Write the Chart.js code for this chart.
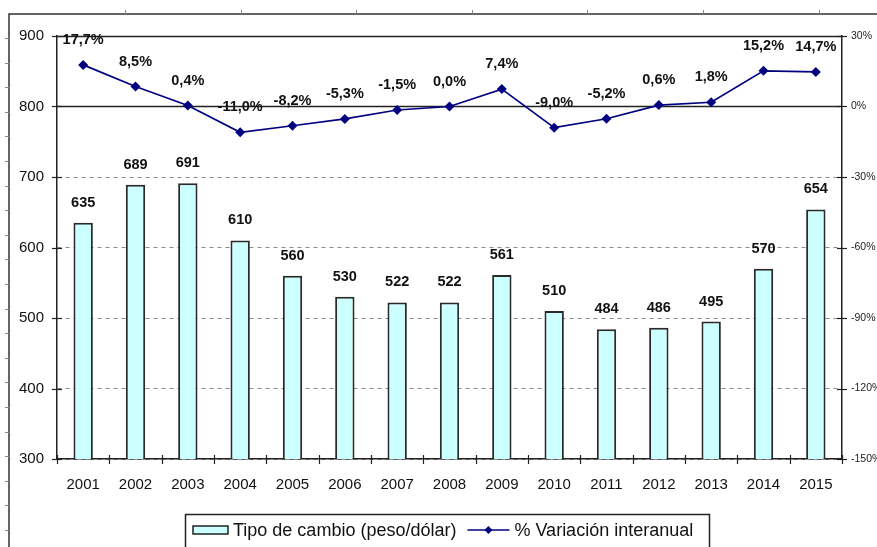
<!DOCTYPE html>
<html lang="es">
<head>
    <meta charset="UTF-8">
    <title>Tipo de cambio peso/dólar</title>
    <script src="https://cdn.jsdelivr.net/npm/chart.js"></script>
    <style>
        body {
            margin: 0;
            background: #fff;
        }
        #wrap {
            width: 877px;
            height: 547px;
        }
    </style>
</head>
<body>
<div id="wrap">
    <canvas id="chart" width="877" height="547"></canvas>
</div>

<script>
    const years = ['2001', '2002', '2003', '2004', '2005', '2006', '2007', '2008',
                   '2009', '2010', '2011', '2012', '2013', '2014', '2015'];
    const tipoCambio = [635, 689, 691, 610, 560, 530, 522, 522, 561, 510, 484, 486, 495, 570, 654];
    const variacion = [17.7, 8.5, 0.4, -11.0, -8.2, -5.3, -1.5, 0.0, 7.4, -9.0, -5.2, 0.6, 1.8, 15.2, 14.7];
    const leftTicks = [300, 400, 500, 600, 700, 800, 900];
    const rightTicks = [-150, -120, -90, -60, -30, 0, 30];

    const FONT = "'Liberation Sans', Arial, sans-serif";
    const BAR_LABEL = 'Tipo de cambio (peso/dólar)';
    const LINE_LABEL = '% Variación interanual';

    function pct(v) {
        return v.toFixed(1).replace('.', ',') + '%';
    }

    // ejes, marcas, etiquetas y leyenda al estilo Excel
    const excelLook = {
        id: 'excelLook',
        beforeDatasetsDraw(chart) {
            const ctx = chart.ctx;
            const a = chart.chartArea;
            const y = chart.scales.y;
            const y1 = chart.scales.y1;
            const x = chart.scales.x;
            ctx.save();
            ctx.strokeStyle = '#222';
            ctx.lineWidth = 1.5;
            // linea superior y linea de 800 / 0%
            [900, 800].forEach(v => {
                const py = Math.round(y.getPixelForValue(v)) + 0.5;
                ctx.beginPath();
                ctx.moveTo(a.left, py);
                ctx.lineTo(a.right, py);
                ctx.stroke();
            });
            ctx.lineWidth = 1.2;
            // marcas cruzadas en los ejes verticales
            leftTicks.forEach(v => {
                const py = Math.round(y.getPixelForValue(v)) + 0.5;
                ctx.beginPath();
                ctx.moveTo(a.left - 5, py);
                ctx.lineTo(a.left + 5, py);
                ctx.stroke();
            });
            rightTicks.forEach(v => {
                const py = Math.round(y1.getPixelForValue(v)) + 0.5;
                ctx.beginPath();
                ctx.moveTo(a.right - 5, py);
                ctx.lineTo(a.right + 5, py);
                ctx.stroke();
            });
            // marcas entre categorias
            for (let i = 0; i <= years.length; i++) {
                let px;
                if (i === 0) px = a.left;
                else if (i === years.length) px = a.right;
                else px = (x.getPixelForValue(i - 1) + x.getPixelForValue(i)) / 2;
                px = Math.round(px) + 0.5;
                ctx.beginPath();
                ctx.moveTo(px, a.bottom - 4);
                ctx.lineTo(px, a.bottom + 5);
                ctx.stroke();
            }
            ctx.restore();
        },
        afterDatasetsDraw(chart) {
            const ctx = chart.ctx;
            ctx.save();
            ctx.fillStyle = '#111';
            ctx.font = 'bold 14.5px ' + FONT;
            ctx.textAlign = 'center';
            ctx.textBaseline = 'middle';
            chart.getDatasetMeta(1).data.forEach((bar, i) => {
                ctx.fillText(String(tipoCambio[i]), bar.x, bar.y - 20);
            });
            chart.getDatasetMeta(0).data.forEach((pt, i) => {
                ctx.fillText(pct(variacion[i]), pt.x, pt.y - 25);
            });
            ctx.restore();
        },
        afterDraw(chart) {
            const ctx = chart.ctx;
            ctx.save();
            // marco exterior
            ctx.strokeStyle = '#333';
            ctx.lineWidth = 1.5;
            ctx.beginPath();
            ctx.moveTo(9, 560);
            ctx.lineTo(9, 14);
            ctx.lineTo(877, 14);
            ctx.stroke();
            ctx.lineWidth = 1;
            ctx.strokeStyle = '#888';
            for (let tx = 125; tx < 877; tx += 115.6) {
                ctx.beginPath();
                ctx.moveTo(Math.round(tx) + 0.5, 10);
                ctx.lineTo(Math.round(tx) + 0.5, 14);
                ctx.stroke();
            }
            for (let ty = 38; ty < 547; ty += 24.6) {
                ctx.beginPath();
                ctx.moveTo(5, Math.round(ty) + 0.5);
                ctx.lineTo(9, Math.round(ty) + 0.5);
                ctx.stroke();
            }

            // leyenda
            const boxL = 185, boxT = 514, boxR = 709;
            const cy = 530;
            ctx.strokeStyle = '#222';
            ctx.lineWidth = 1.5;
            ctx.fillStyle = '#fff';
            ctx.fillRect(boxL, boxT, boxR - boxL, 60);
            ctx.strokeRect(boxL + 0.5, boxT + 0.5, boxR - boxL, 60);

            ctx.font = '18px ' + FONT;
            ctx.textBaseline = 'middle';
            ctx.textAlign = 'left';
            let cx = boxL + 8;
            ctx.fillStyle = '#CCFFFF';
            ctx.fillRect(cx, cy - 4, 35, 8);
            ctx.strokeStyle = '#222';
            ctx.lineWidth = 1.5;
            ctx.strokeRect(cx, cy - 4, 35, 8);
            cx += 40;
            ctx.fillStyle = '#111';
            ctx.fillText(BAR_LABEL, cx, cy + 1);
            cx += ctx.measureText(BAR_LABEL).width + 11;

            ctx.strokeStyle = '#000080';
            ctx.lineWidth = 1.5;
            ctx.beginPath();
            ctx.moveTo(cx, cy);
            ctx.lineTo(cx + 42, cy);
            ctx.stroke();
            ctx.fillStyle = '#000080';
            ctx.beginPath();
            ctx.moveTo(cx + 21, cy - 4);
            ctx.lineTo(cx + 25, cy);
            ctx.lineTo(cx + 21, cy + 4);
            ctx.lineTo(cx + 17, cy);
            ctx.closePath();
            ctx.fill();
            cx += 47;
            ctx.fillStyle = '#111';
            ctx.fillText(LINE_LABEL, cx, cy + 1);
            ctx.restore();
        }
    };

    const ctx = document.getElementById('chart').getContext('2d');
    const chart = new Chart(ctx, {
        data: {
            labels: years,
            datasets: [{
                type: 'line',
                label: LINE_LABEL,
                data: variacion,
                yAxisID: 'y1',
                borderColor: '#000080',
                backgroundColor: '#000080',
                borderWidth: 1.7,
                pointStyle: 'rectRot',
                pointRadius: 5,
                pointBackgroundColor: '#000080',
                pointBorderWidth: 0,
                tension: 0,
                order: 0
            }, {
                type: 'bar',
                label: BAR_LABEL,
                data: tipoCambio,
                yAxisID: 'y',
                backgroundColor: '#CCFFFF',
                borderColor: '#2a2a2a',
                borderWidth: 2,
                barPercentage: 0.37,
                categoryPercentage: 1,
                order: 1
            }]
        },
        options: {
            responsive: false,
            animation: false,
            devicePixelRatio: 1,
            layout: {
                padding: { left: 0, right: 0, top: 36, bottom: 48 }
            },
            plugins: {
                legend: { display: false },
                tooltip: { enabled: false }
            },
            scales: {
                x: {
                    offset: true,
                    grid: { display: false, drawTicks: false },
                    border: { display: true, color: '#222', width: 1.5 },
                    ticks: {
                        color: '#111',
                        font: { family: FONT, size: 15 },
                        padding: 17,
                        maxRotation: 0
                    },
                    afterFit(scale) { scale.height = 40; }
                },
                y: {
                    position: 'left',
                    min: 300,
                    max: 900,
                    afterBuildTicks(scale) {
                        scale.ticks = leftTicks.map(v => ({ value: v }));
                    },
                    grid: {
                        color: '#8a8a8a',
                        lineWidth: 1,
                        drawTicks: false
                    },
                    border: { display: true, color: '#222', width: 1.5, dash: [4, 4] },
                    ticks: {
                        color: '#111',
                        font: { family: FONT, size: 15 },
                        padding: 13
                    },
                    afterFit(scale) { scale.width = 57; }
                },
                y1: {
                    position: 'right',
                    min: -150,
                    max: 30,
                    afterBuildTicks(scale) {
                        scale.ticks = rightTicks.map(v => ({ value: v }));
                    },
                    grid: { drawOnChartArea: false, drawTicks: false },
                    border: { display: true, color: '#222', width: 1.5 },
                    ticks: {
                        color: '#222',
                        font: { family: FONT, size: 10.5 },
                        padding: 9,
                        callback: v => v + '%'
                    },
                    afterFit(scale) { scale.width = 35; }
                }
            }
        },
        plugins: [excelLook]
    });
</script>
</body>
</html>
